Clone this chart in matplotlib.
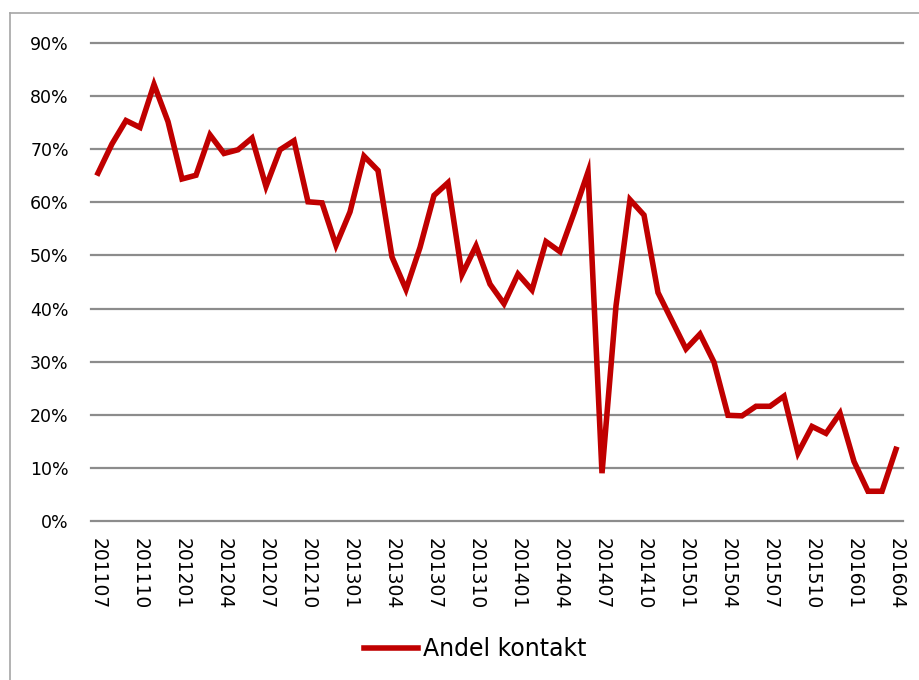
import matplotlib
matplotlib.use("Agg")
import matplotlib.pyplot as plt
from matplotlib.lines import Line2D
from matplotlib.ticker import FuncFormatter

# månader 201107 .. 201604
months = []
for y in range(2011, 2017):
    for m in range(1, 13):
        ym = y * 100 + m
        if 201107 <= ym <= 201604:
            months.append(str(ym))

andel_kontakt = [
    65.5, 71.0, 75.4, 74.1, 82.2, 75.2, 64.4, 65.1, 72.7, 69.2,
    69.9, 72.1, 63.0, 69.9, 71.6, 60.1, 59.9, 51.9, 58.2, 68.7,
    66.0, 49.7, 43.6, 51.5, 61.3, 63.7, 46.4, 51.8, 44.6, 40.9,
    46.5, 43.5, 52.6, 50.7, 58.0, 65.7, 9.0, 40.5, 60.5, 57.6,
    43.0, 37.7, 32.4, 35.2, 29.9, 19.9, 19.8, 21.6, 21.6, 23.5,
    12.8, 17.8, 16.5, 20.3, 11.2, 5.6, 5.6, 13.5,
]
andel = [v / 100 for v in andel_kontakt]

RED = "#C00000"
GRID = "#8c8c8c"

W, H = 919, 680
fig = plt.figure(figsize=(W / 100, H / 100), dpi=100)
ax = fig.add_axes([91 / W, 1 - 521 / H, 812 / W, 478 / H])

x = list(range(len(months)))
ax.plot(x, andel, color=RED, lw=4.0, solid_joinstyle="miter",
        label="Andel kontakt")

ax.set_xlim(-0.5, len(months) - 0.5)
ax.set_ylim(0, 0.9)
ax.set_yticks([i / 10 for i in range(10)])
ax.yaxis.set_major_formatter(FuncFormatter(lambda v, _: f"{v * 100:.0f}%"))
ax.set_xticks(x[::3])
ax.set_xticklabels(months[::3], rotation=270, fontsize=13.5)
ax.tick_params(axis="y", length=0, pad=16, labelsize=12.5)
ax.tick_params(axis="x", length=0, pad=12)
ax.grid(axis="y", color=GRID, lw=1.6)
for gl in ax.yaxis.get_gridlines():
    gl.set_clip_on(False)
ax.set_axisbelow(True)
for s in ax.spines.values():
    s.set_visible(False)

fig.legend(loc="center", bbox_to_anchor=(475 / W, 1 - 649 / H),
           frameon=False, fontsize=17, handlelength=2.3,
           handletextpad=0.2)

# ram runt diagrammet
fig.add_artist(Line2D([9.5 / W, 9.5 / W], [0, 1 - 13 / H],
                      transform=fig.transFigure, color="#a6a6a6", lw=1.2))
fig.add_artist(Line2D([9.5 / W, 1], [1 - 13 / H, 1 - 13 / H],
                      transform=fig.transFigure, color="#a6a6a6", lw=1.2))

fig.savefig("out.png", dpi=100)
